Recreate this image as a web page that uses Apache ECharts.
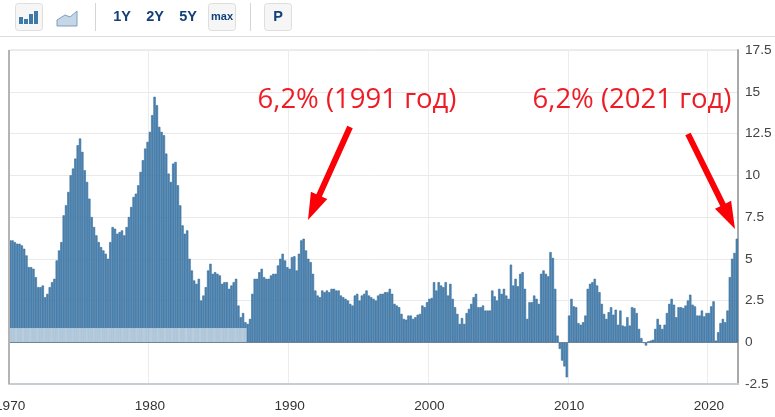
<!DOCTYPE html>
<html>
<head>
<meta charset="utf-8">
<title>Inflation</title>
<script src="https://cdn.jsdelivr.net/npm/echarts@6/dist/echarts.min.js"></script>
<style>
html, body { margin: 0; padding: 0; background: #fff; }
#chart { width: 775px; height: 417px; }
</style>
</head>
<body>
<div id="chart"></div>
<script>
// six readings a year
var values1970s = [
	6.1, 6.1, 6.0, 5.9, 5.9, 5.8,
	5.6, 5.2, 4.5, 4.5, 4.4, 3.9,
	3.3, 3.3, 3.4, 2.7, 2.9, 3.3,
	3.6, 3.8, 4.9, 5.5, 6.0, 7.6,
	8.2, 9.0, 10.0, 10.4, 11.0, 11.8,
	12.2, 11.4, 10.3, 9.6, 8.6, 7.5,
	6.9, 6.4, 6.0, 5.7, 5.5, 5.3,
	5.0, 6.0, 6.9, 6.8, 6.5, 6.6,
	6.7, 6.4, 6.9, 7.5, 8.1, 8.7,
	8.9, 9.4, 10.2, 10.9, 11.6, 12.0
];
var values1980s = [
	12.6, 13.6, 14.7, 14.2, 12.9, 12.6,
	12.4, 11.3, 10.1, 9.6, 10.7, 10.8,
	9.4, 8.2, 7.0, 6.5, 6.7, 5.0,
	4.3, 3.7, 3.5, 3.8, 2.5, 2.8,
	3.3, 4.3, 4.7, 4.1, 4.2, 4.1,
	4.0, 3.5, 3.6, 3.6, 3.2, 3.4,
	3.6, 3.8, 2.2, 1.5, 1.75, 1.2,
	1.1, 1.4, 2.9, 3.8, 3.8, 4.2,
	4.4, 3.9, 3.8, 3.8, 4.0, 4.1,
	4.1, 4.6, 5.0, 5.3, 4.9, 4.5
];
var values1990s = [
	4.4, 5.1, 5.15, 4.3, 5.3, 6.1,
	6.2, 5.5, 5.0, 4.8, 4.1, 3.1,
	2.8, 2.7, 3.1, 3.0, 3.1, 3.0,
	3.2, 3.2, 3.1, 3.1, 2.8, 2.7,
	2.6, 2.5, 2.3, 2.2, 2.8, 2.9,
	2.5, 2.8, 2.9, 3.1, 2.8, 2.7,
	2.6, 2.5, 2.8, 2.9, 2.9, 3.0,
	3.0, 3.2, 2.9, 2.3, 2.2, 2.1,
	1.7, 1.4, 1.35, 1.6, 1.6, 1.4,
	1.5, 1.65, 1.7, 2.2, 2.1, 2.4
];
var values2000s = [
	2.6, 2.65, 3.6, 3.1, 3.6, 3.4,
	3.3, 3.6, 2.8, 3.5, 2.6, 2.1,
	1.7, 1.1, 1.45, 1.1, 1.75, 2.0,
	2.3, 2.7, 2.9, 2.1, 2.1, 2.2,
	1.9, 1.9, 1.9, 3.1, 2.75, 2.5,
	3.2, 2.9, 3.2, 2.8, 2.6, 4.65,
	3.4, 3.8, 3.35, 4.1, 4.2, 3.2,
	1.4, 2.4, 2.4, 2.8, 2.6, 2.3,
	4.1, 4.3, 4.1, 3.95, 5.4, 5.05,
	3.2, 0.4, -0.4, -1.1, -1.45, -2.1
];
var values2010s = [
	1.6, 2.6, 2.15, 2.1, 1.15, 1.05,
	1.2, 1.6, 3.2, 3.5, 3.6, 3.8,
	3.4, 3.0, 2.3, 1.7, 1.4, 1.8,
	2.1, 1.65, 1.95, 1.05, 1.9, 1.0,
	0.95, 1.5, 1.0, 2.1, 2.05, 1.75,
	0.8, 0.25, -0.05, -0.2, 0.05, 0.1,
	0.15, 0.8, 1.4, 1.05, 0.8, 1.05,
	1.75, 2.3, 2.6, 2.25, 1.5, 2.1,
	2.1, 2.05, 2.2, 2.5, 2.85, 2.25,
	2.15, 1.6, 1.6, 1.9, 1.55, 1.75
];
var values2020s = [
	1.75, 2.15, 2.45, 0.1, 0.6, 1.15,
	1.4, 1.2, 1.9, 3.9, 5.0, 5.35,
	6.2
];
var yTicks = [-2.5, 0, 2.5, 5, 7.5, 10, 12.5, 15, 17.5];
var paleBandTop = 0.85; //светлая полоса внизу, до 1987
var paleBandBars = 102;
var perYear = 6;
var startYear = 1970;

var values = values1970s.concat(values1980s, values1990s, values2000s, values2010s, values2020s);
var categories = values.map(function(v, i) {
	return (startYear + Math.floor(i / perYear)) + '-' + (i % perYear);
});
var paleBand = values.map(function(v, i) {
	return i < paleBandBars ? paleBandTop : null;
});

function isDecade(i) {
	return i % (perYear * 10) === 0;
}

// red arrow as one polygon
function arrow(x1, y1, x2, y2, shaft, headW, headL) {
	var len = Math.sqrt((x2 - x1) * (x2 - x1) + (y2 - y1) * (y2 - y1));
	var ux = (x2 - x1) / len, uy = (y2 - y1) / len;
	var nx = -uy, ny = ux;
	var bx = x2 - ux * headL, by = y2 - uy * headL;
	return {
		type: 'polygon',
		z: 20,
		shape: {
			points: [
				[x1 + nx * shaft / 2, y1 + ny * shaft / 2],
				[bx + nx * shaft / 2, by + ny * shaft / 2],
				[bx + nx * headW / 2, by + ny * headW / 2],
				[x2, y2],
				[bx - nx * headW / 2, by - ny * headW / 2],
				[bx - nx * shaft / 2, by - ny * shaft / 2],
				[x1 - nx * shaft / 2, y1 - ny * shaft / 2]
			]
		},
		style: { fill: '#fb0006' }
	};
}

function button(x, w) {
	return {
		type: 'rect',
		shape: { x: x + 0.5, y: 3.5, width: w, height: 27, r: 3 },
		style: { fill: '#f6f6f6', stroke: '#dedede', lineWidth: 1 }
	};
}

function toolText(txt, x, size) {
	return {
		type: 'text',
		x: x,
		y: 17,
		style: {
			text: txt,
			x: 0,
			y: 0,
			align: 'center',
			verticalAlign: 'middle',
			fill: '#12407a',
			font: 'bold ' + size + 'px "Liberation Sans", Arial, sans-serif'
		}
	};
}

function toolBar(x, y, h) {
	return {
		type: 'rect',
		shape: { x: x, y: y, width: 4, height: h },
		style: { fill: '#3f79a8' }
	};
}

function note(txt, x) {
	return {
		type: 'text',
		x: x,
		y: 100,
		z: 20,
		style: {
			text: txt,
			x: 0,
			y: 0,
			align: 'center',
			verticalAlign: 'middle',
			fill: '#ee1c25',
			font: '27.5px "Open Sans", "Noto Sans", sans-serif'
		}
	};
}

var toolbar = [
	{ type: 'rect', shape: { x: 0, y: 36, width: 775, height: 1 }, style: { fill: '#dcdcdc' } },
	button(15, 27),
	toolBar(19, 17, 7), toolBar(24, 19, 5), toolBar(29, 14, 10), toolBar(34, 11, 13),
	{
		type: 'polygon',
		shape: { points: [[57, 26], [57, 20], [65, 15], [70, 17], [77, 11], [77, 26]] },
		style: { fill: '#c5d6e6', stroke: '#7e9fbd', lineWidth: 1 }
	},
	{ type: 'rect', shape: { x: 95, y: 3, width: 1, height: 28 }, style: { fill: '#d5d5d5' } },
	toolText('1Y', 122, 14.5),
	toolText('2Y', 155, 14.5),
	toolText('5Y', 188, 14.5),
	button(208, 27),
	toolText('max', 222, 11),
	{ type: 'rect', shape: { x: 250, y: 3, width: 1, height: 28 }, style: { fill: '#d5d5d5' } },
	button(264, 27),
	toolText('P', 278, 14.5)
];

var chart = echarts.init(document.getElementById('chart'), null, { renderer: 'canvas' });

var option = {
	animation: false,
	backgroundColor: '#fff',
	grid: {
		left: 9, right: 37, top: 50, bottom: 33,
		outerBoundsMode: 'none',
		show: true, borderColor: '#dddddd', borderWidth: 1
	},
	xAxis: {
		type: 'category',
		data: categories,
		axisLine: { onZero: false, lineStyle: { color: '#c6ced4', width: 2 } },
		axisTick: { show: false },
		axisLabel: {
			margin: 15,
			color: '#333',
			fontFamily: '"Liberation Sans", Arial, sans-serif',
			fontSize: 13.6,
			interval: function(i) { return isDecade(i); },
			formatter: function(v) { return v.split('-')[0]; }
		},
		splitLine: {
			show: true,
			interval: function(i) { return isDecade(i); },
			lineStyle: { color: '#ececec' }
		}
	},
	yAxis: {
		type: 'value',
		position: 'right',
		min: yTicks[0],
		max: yTicks[yTicks.length - 1],
		interval: 2.5,
		axisLine: { show: true, lineStyle: { color: '#a9a9a9', width: 2 } },
		axisTick: { show: false },
		axisLabel: {
			margin: 7,
			color: '#444',
			fontFamily: '"Liberation Sans", Arial, sans-serif',
			fontSize: 13.7
		},
		splitLine: { show: true, lineStyle: { color: '#e9e9e9' } }
	},
	series: [{
		type: 'bar',
		data: values,
		barWidth: '100%',
		barGap: '-100%',
		silent: true,
		itemStyle: { color: '#4b85b6', borderColor: '#386b97', borderWidth: 0.6 },
		markLine: {
			silent: true,
			symbol: 'none',
			label: { show: false },
			lineStyle: { color: '#6f8496', width: 1, type: 'solid' },
			data: [{ yAxis: 0 }]
		}
	}, {
		type: 'bar',
		data: paleBand,
		barWidth: '100%',
		barGap: '-100%',
		silent: true,
		z: 3,
		itemStyle: { color: 'rgba(255,255,255,0.58)' }
	}],
	graphic: toolbar.concat([
		// left axis line of the plot
		{ type: 'rect', z: 10, shape: { x: 8, y: 50, width: 2, height: 334 }, style: { fill: '#b4b4b4' } },
		note('6,2% (1991 год)', 357),
		note('6,2% (2021 год)', 632),
		arrow(350, 127, 308, 220, 6, 18, 27),
		arrow(688, 134, 735, 229, 6, 18, 27)
	])
};

chart.setOption(option);
</script>
</body>
</html>
